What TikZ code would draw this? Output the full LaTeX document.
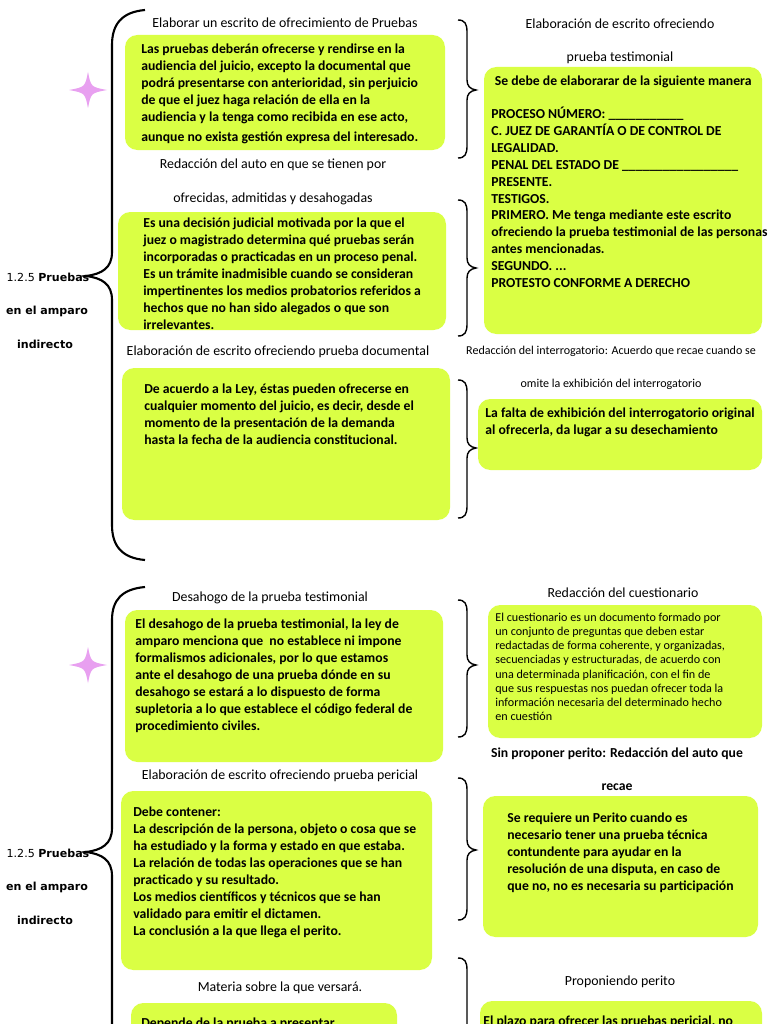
\documentclass[tikz,border=0pt]{standalone}
\usepackage{fontspec}
\setmainfont{Carlito}
\newfontfamily\labelfont{DejaVu Sans}
\usepackage{xcolor}
\usepackage{tikz}
\usetikzlibrary{positioning}

\definecolor{lima}{RGB}{218,255,68}
\definecolor{lila}{RGB}{232,160,240}

\tikzset{
  caja/.style={fill=lima, rounded corners=7pt},
  textocaja/.style={anchor=north west, align=left, inner sep=0pt,
    font=\bfseries\fontsize{7.8}{9.65}\selectfont},
  textochico/.style={anchor=north west, align=left, inner sep=0pt,
    font=\fontsize{6.9}{8}\selectfont},
  titulo/.style={align=center, inner sep=0pt, font=\fontsize{7.9}{9}\selectfont},
  llave/.style={line width=1.2pt},
  llavechica/.style={line width=0.8pt},
  etiqueta/.style={inner sep=0pt, font=\labelfont\fontsize{6.3}{7}\selectfont},
}

\begin{document}
\begin{tikzpicture}[x=0.02cm, y=-0.02cm]

    \useasboundingbox (0,0) rectangle (768,1024);
    \clip (0,0) rectangle (768,1024);
    \fill[white] (0,0) rectangle (768,1024);

    % =================================================================
    % 1. PRIMERA HOJA: LLAVES
    % =================================================================
    % Llave grande izquierda
    \draw[llave] (145,10) .. controls (122,12) and (112,24) .. (112,45) -- (112,252)
        .. controls (112,268) and (102,274) .. (86,276)
        .. controls (102,278) and (112,284) .. (112,300) -- (112,525)
        .. controls (112,546) and (122,558) .. (145,560);

    % Llaves chicas derecha
    \draw[llavechica] (458,20) .. controls (465,20) and (467,24) .. (467,32) -- (467,80)
        .. controls (467,86) and (470,89) .. (476,90) .. controls (470,91) and (467,94) .. (467,100)
        -- (467,146) .. controls (467,154) and (465,158) .. (458,158);
    \draw[llavechica] (458,200) .. controls (465,200) and (467,204) .. (467,212) -- (467,258)
        .. controls (467,264) and (470,267) .. (476,268) .. controls (470,269) and (467,272) .. (467,278)
        -- (467,324) .. controls (467,332) and (465,336) .. (458,336);
    \draw[llavechica] (458,380) .. controls (465,380) and (467,384) .. (467,392) -- (467,438)
        .. controls (467,444) and (470,447) .. (476,448) .. controls (470,449) and (467,452) .. (467,458)
        -- (467,506) .. controls (467,514) and (465,518) .. (458,518);

    % Estrella
    \fill[lila] (88,72) .. controls (91,87) .. (107,90) .. controls (91,93) .. (88,108)
        .. controls (85,93) .. (69,90) .. controls (85,87) .. (88,72) -- cycle;

    % =================================================================
    % 2. PRIMERA HOJA: CAJAS Y TEXTOS
    % =================================================================
    \node[etiqueta] (et1a) at (48,277) {1.2.5 \textbf{Pruebas}};
    \node[etiqueta] (et1b) at (47,311) {\textbf{en el amparo}};
    \node[etiqueta] (et1c) at (45,344) {\textbf{indirecto}};

    \node[titulo] (tit1) at (285,23) {Elaborar un escrito de ofrecimiento de Pruebas};
    \fill[caja] (125,35) rectangle (445,150);
    \node[textocaja] (txt1) at (141,43.5) {Las pruebas deberán ofrecerse y rendirse en la\\
        audiencia del juicio, excepto la documental que\\
        podrá presentarse con anterioridad, sin perjuicio\\
        de que el juez haga relación de ella en la\\
        audiencia y la tenga como recibida en ese acto,\\[1.7pt]
        aunque no exista gestión expresa del interesado.};

    \node[titulo] (tit2) at (273,182) {Redacción del auto en que se tienen por\\[10pt]
        ofrecidas, admitidas y desahogadas};
    \fill[caja] (118,212) rectangle (446,330);
    \node[textocaja] (txt2) at (143,217.5) {Es una decisión judicial motivada por la que el\\
        juez o magistrado determina qué pruebas serán\\
        incorporadas o practicadas en un proceso penal.\\
        Es un trámite inadmisible cuando se consideran\\
        impertinentes los medios probatorios referidos a\\
        hechos que no han sido alegados o que son\\
        irrelevantes.};

    \node[titulo] (tit3) at (278,352) {Elaboración de escrito ofreciendo prueba documental};
    \fill[caja] (122,368) rectangle (450,520);
    \node[textocaja] (txt3) at (144,383.5) {De acuerdo a la Ley, éstas pueden ofrecerse en\\
        cualquier momento del juicio, es decir, desde el\\
        momento de la presentación de la demanda\\
        hasta la fecha de la audiencia constitucional.};

    \node[titulo] (tit4) at (620,41.5) {Elaboración de escrito ofreciendo\\[10pt]
        prueba testimonial};
    \fill[caja] (484,67) rectangle (762,334);
    \node[textocaja] (txt4) at (491,75.5) {\hspace{2pt}Se debe de elaborarar de la siguiente manera\\[9pt]
        PROCESO NÚMERO: \_\_\_\_\_\_\_\_\_\_\_\\
        C. JUEZ DE GARANTÍA O DE CONTROL DE\\
        LEGALIDAD.\\
        PENAL DEL ESTADO DE \_\_\_\_\_\_\_\_\_\_\_\_\_\_\_\_\_\\
        PRESENTE.\\
        TESTIGOS.\\
        PRIMERO. Me tenga mediante este escrito\\
        ofreciendo la prueba testimonial de las personas\\
        antes mencionadas.\\
        SEGUNDO. ...\\
        PROTESTO CONFORME A DERECHO};

    \node[titulo, font=\fontsize{6.85}{8}\selectfont] (tit5) at (611,367.5)
        {Redacción del interrogatorio: Acuerdo que recae cuando se\\[10.7pt]
        omite la exhibición del interrogatorio};
    \fill[caja] (478,399) rectangle (762,470);
    \node[textocaja] (txt5) at (485,407.5) {La falta de exhibición del interrogatorio original\\
        al ofrecerla, da lugar a su desechamiento};

    % =================================================================
    % 3. SEGUNDA HOJA: LLAVES
    % =================================================================
    \draw[llave] (145,587) .. controls (122,589) and (112,600) .. (112,620) -- (112,828)
        .. controls (112,844) and (102,850) .. (86,852)
        .. controls (102,854) and (112,860) .. (112,876) -- (112,1040);

    \draw[llavechica] (458,600) .. controls (465,600) and (467,604) .. (467,612) -- (467,655)
        .. controls (467,661) and (470,664) .. (476,665) .. controls (470,666) and (467,669) .. (467,675)
        -- (467,725) .. controls (467,733) and (465,737) .. (458,737);
    \draw[llavechica] (458,778) .. controls (465,778) and (467,782) .. (467,790) -- (467,840)
        .. controls (467,846) and (470,849) .. (476,850) .. controls (470,851) and (467,854) .. (467,860)
        -- (467,908) .. controls (467,916) and (465,920) .. (458,920);
    \draw[llavechica] (458,958) .. controls (465,958) and (467,962) .. (467,970) -- (467,1040);

    % Estrella
    \fill[lila] (88,647) .. controls (91,662) .. (107,665) .. controls (91,668) .. (88,683)
        .. controls (85,668) .. (69,665) .. controls (85,662) .. (88,647) -- cycle;

    % =================================================================
    % 4. SEGUNDA HOJA: CAJAS Y TEXTOS
    % =================================================================
    \node[etiqueta] (et2a) at (48,853) {1.2.5 \textbf{Pruebas}};
    \node[etiqueta] (et2b) at (47,887) {\textbf{en el amparo}};
    \node[etiqueta] (et2c) at (45,920) {\textbf{indirecto}};

    \node[titulo] (tit6) at (270,598) {Desahogo de la prueba testimonial};
    \fill[caja] (125,610) rectangle (443,762);
    \node[textocaja] (txt6) at (135,619) {El desahogo de la prueba testimonial, la ley de\\
        amparo menciona que\ \ no establece ni impone\\
        formalismos adicionales, por lo que estamos\\
        ante el desahogo de una prueba dónde en su\\
        desahogo se estará a lo dispuesto de forma\\
        supletoria a lo que establece el código federal de\\
        procedimiento civiles.};

    \node[titulo] (tit7) at (280,776) {Elaboración de escrito ofreciendo prueba pericial};
    \fill[caja] (121,791) rectangle (432,970);
    \node[textocaja] (txt7) at (133,807) {Debe contener:\\
        La descripción de la persona, objeto o cosa que se\\
        ha estudiado y la forma y estado en que estaba.\\
        La relación de todas las operaciones que se han\\
        practicado y su resultado.\\
        Los medios científicos y técnicos que se han\\
        validado para emitir el dictamen.\\
        La conclusión a la que llega el perito.};

    \node[titulo] (tit8) at (280,988) {Materia sobre la que versará.};
    \fill[caja] (131,1003) rectangle (397,1060);
    \node[textocaja] (txt8) at (141,1018) {Depende de la prueba a presentar.};

    \node[titulo] (tit9) at (623,593) {Redacción del cuestionario};
    \fill[caja] (488,605) rectangle (762,738);
    \node[textochico] (txt9) at (495,613) {El cuestionario es un documento formado por\\
        un conjunto de preguntas que deben estar\\
        redactadas de forma coherente, y organizadas,\\
        secuenciadas y estructuradas, de acuerdo con\\
        una determinada planificación, con el fin de\\
        que sus respuestas nos puedan ofrecer toda la\\
        información necesaria del determinado hecho\\
        en cuestión};

    \node[titulo, font=\bfseries\fontsize{7.8}{9}\selectfont] (tit10) at (617,769)
        {Sin proponer perito: Redacción del auto que\\[10pt] recae};
    \fill[caja] (483,796) rectangle (758,937);
    \node[textocaja] (txt10) at (507,813) {Se requiere un Perito cuando es\\
        necesario tener una prueba técnica\\
        contundente para ayudar en la\\
        resolución de una disputa, en caso de\\
        que no, no es necesaria su participación};

    \node[titulo] (tit11) at (620,982) {Proponiendo perito};
    \fill[caja] (480,1001) rectangle (762,1060);
    \node[textocaja] (txt11) at (483,1016) {El plazo para ofrecer las pruebas pericial, no};

\end{tikzpicture}
\end{document}
